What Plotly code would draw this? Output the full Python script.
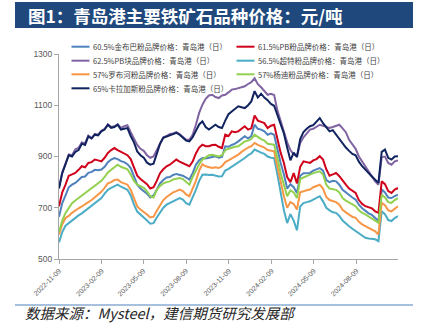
import pandas as pd
import plotly.graph_objects as go

# Weekly observation dates (Qingdao port, daily quotes sampled weekly)
dates = pd.date_range("2022-11-09", periods=105, freq="7D")

names = [
    "60.5%金布巴粉品牌价格：青岛港（日）",
    "61.5%PB粉品牌价格：青岛港（日）",
    "62.5%PB块品牌价格：青岛港（日）",
    "56.5%超特粉品牌价格：青岛港（日）",
    "57%罗布河粉品牌价格：青岛港（日）",
    "57%杨迪粉品牌价格：青岛港（日）",
    "65%卡拉加斯粉品牌价格：青岛港（日）",
]
colors = ["#4F81BD", "#D0021B", "#8064A2", "#4BACC6", "#F79646", "#92D050", "#10235F"]

jimblebar = [665, 718, 748, 780, 790, 797, 808, 820, 822, 836, 840, 848, 846, 849, 860, 878, 888, 894, 890, 882,
             878, 870, 855, 820, 790, 775, 766, 755, 740, 748, 770, 795, 808, 818, 820, 828, 832, 829, 825, 818,
             810, 835, 868, 885, 894, 892, 895, 898, 901, 895, 898, 940, 938, 945, 950, 959, 968, 979, 970, 980,
             1024, 1008, 1005, 998, 985, 990, 985, 925, 875, 830, 775, 792, 780, 758, 825, 835, 836, 836, 845, 850,
             855, 845, 808, 800, 805, 803, 790, 770, 760, 748, 740, 732, 712, 698, 686, 678, 672, 661, 648, 771,
             760, 740, 738, 745, 751]
pb_fines = [706, 760, 790, 825, 830, 836, 848, 862, 858, 875, 878, 888, 885, 881, 895, 914, 925, 933, 925, 918,
            912, 905, 890, 860, 825, 812, 803, 792, 775, 780, 805, 835, 850, 862, 868, 880, 888, 880, 875, 868,
            862, 880, 912, 935, 946, 940, 940, 945, 946, 938, 933, 985, 980, 998, 995, 998, 1010, 1018, 1005, 1010,
            1060, 1040, 1035, 1030, 1011, 1020, 1024, 965, 915, 875, 820, 800, 835, 795, 860, 881, 878, 875, 885, 890,
            901, 888, 850, 825, 830, 836, 823, 805, 790, 775, 768, 758, 730, 715, 706, 702, 698, 686, 680, 803,
            792, 765, 758, 771, 777]
pb_lump = [780, 838, 872, 908, 905, 928, 933, 955, 952, 982, 972, 988, 985, 1000, 1008, 1025, 1015, 1018, 1026, 1012,
           1018, 1022, 995, 972, 945, 930, 922, 905, 895, 900, 925, 955, 975, 980, 988, 990, 995, 988, 975, 965,
           965, 985, 1024, 1070, 1102, 1125, 1138, 1141, 1132, 1128, 1138, 1141, 1150, 1161, 1163, 1167, 1170, 1174, 1183, 1190,
           1205, 1182, 1170, 1155, 1141, 1145, 1140, 1080, 1035, 990, 955, 925, 908, 901, 953, 975, 992, 1005, 1008, 1015,
           1024, 1020, 1015, 1011, 1015, 1020, 1024, 1010, 995, 965, 945, 930, 900, 880, 860, 840, 820, 803, 790, 898,
           900, 875, 868, 881, 885]
super_special = [565, 605, 630, 640, 652, 662, 670, 678, 688, 698, 705, 715, 728, 738, 755, 770, 778, 785, 790, 782,
                 775, 770, 748, 712, 685, 672, 662, 650, 638, 640, 662, 682, 700, 712, 719, 725, 730, 738, 732, 718,
                 712, 740, 770, 805, 829, 830, 828, 829, 825, 822, 823, 845, 852, 860, 868, 875, 885, 894, 905, 912,
                 927, 920, 915, 910, 900, 895, 894, 830, 760, 690, 640, 675, 650, 612, 705, 718, 722, 725, 732, 738,
                 745, 725, 700, 690, 682, 680, 668, 650, 638, 628, 618, 609, 598, 590, 583, 580, 578, 577, 570, 686,
                 675, 652, 648, 660, 667]
robe_river = [595, 635, 660, 668, 680, 690, 698, 705, 712, 722, 730, 740, 752, 762, 778, 795, 800, 808, 810, 800,
              795, 790, 770, 735, 705, 693, 685, 674, 662, 665, 688, 710, 730, 742, 751, 760, 765, 771, 765, 752,
              745, 775, 805, 845, 870, 862, 858, 855, 858, 855, 862, 878, 885, 892, 900, 907, 918, 927, 935, 940,
              953, 945, 940, 935, 925, 922, 920, 860, 800, 745, 700, 722, 715, 693, 760, 765, 768, 771, 780, 785,
              790, 775, 742, 730, 725, 722, 712, 692, 682, 672, 665, 661, 645, 635, 628, 620, 615, 608, 596, 719,
              710, 690, 686, 698, 706]
yandi = [605, 650, 680, 700, 718, 728, 738, 748, 755, 768, 775, 788, 798, 805, 820, 838, 848, 858, 868, 860,
         855, 850, 830, 805, 790, 784, 778, 764, 745, 740, 770, 785, 795, 800, 803, 810, 812, 816, 812, 800,
         790, 820, 845, 870, 888, 898, 905, 907, 902, 900, 905, 925, 930, 935, 938, 940, 950, 959, 962, 968,
         985, 975, 968, 962, 950, 948, 946, 895, 835, 790, 745, 768, 760, 738, 812, 818, 822, 829, 835, 838,
         842, 830, 790, 775, 771, 770, 760, 738, 728, 720, 712, 706, 690, 680, 674, 665, 658, 648, 641, 751,
         740, 722, 719, 730, 738]
carajas = [775, 835, 870, 905, 900, 918, 925, 950, 945, 978, 970, 985, 982, 998, 1005, 1024, 1012, 1015, 1024, 1005,
           1008, 1011, 980, 955, 920, 905, 895, 876, 868, 872, 910, 950, 973, 978, 985, 988, 992, 985, 973, 962,
           959, 975, 1000, 1025, 1037, 1015, 1005, 1015, 1024, 1015, 1011, 1040, 1065, 1076, 1085, 1096, 1092, 1089, 1100, 1115,
           1155, 1130, 1145, 1130, 1120, 1105, 1098, 1060, 1025, 990, 935, 885, 915, 898, 968, 995, 1008, 1018, 1022, 1035,
           1050, 1030, 1015, 998, 1003, 985, 968, 950, 935, 922, 910, 905, 880, 862, 850, 835, 822, 810, 797, 918,
           927, 895, 888, 900, 901]

series = [jimblebar, pb_fines, pb_lump, super_special, robe_river, yandi, carajas]

y_ticks = [500, 700, 900, 1100, 1300]
x_ticks = ["2022-11-09", "2023-02-09", "2023-05-09", "2023-08-09", "2023-11-09",
           "2024-02-09", "2024-05-09", "2024-08-09"]

title_text = "图1：青岛港主要铁矿石品种价格：元/吨"
source_text = "数据来源：Mysteel，建信期货研究发展部"

W, H = 426, 324
ML, MR, MT, MB = 59, 28, 54, 65
PW, PH = W - ML - MR, H - MT - MB


def px(x):
    return (x - ML) / PW


def py(y):
    return (H - MB - y) / PH


fig = go.Figure()
for name, vals, col in zip(names, series, colors):
    fig.add_trace(go.Scatter(x=dates, y=vals, name=name, mode="lines",
                             line=dict(color=col, width=2)))

shapes = [
    # title band
    dict(type="rect", xref="paper", yref="paper", x0=px(15), x1=px(413), y0=py(28), y1=py(2),
         fillcolor="#1F497D", line=dict(width=0), layer="below"),
    # footer rule
    dict(type="line", xref="paper", yref="paper", x0=px(15), x1=px(413), y0=py(305), y1=py(305),
         line=dict(color="#4F81BD", width=1)),
]
annotations = [
    dict(text=title_text, xref="paper", yref="paper", x=px(26), y=py(15.5), xanchor="left", yanchor="middle",
         showarrow=False, font=dict(family="Noto Sans CJK SC", size=17.5, color="white", weight="bold")),
    dict(text="<i>" + source_text + " </i>", xref="paper", yref="paper", x=px(24), y=py(323.5),
         xanchor="left", yanchor="bottom", showarrow=False, borderpad=0,
         font=dict(family="Noto Sans CJK SC", size=14.5, color="#262626")),
]

# two-column legend drawn above the traces
rows_y = [46.7, 60.7, 74.3, 88.3]
cols_x = [(71.5, 89.5, 90.5), (236.5, 254.5, 255.5)]
for k, (name, col) in enumerate(zip(names, colors)):
    r, c = divmod(k, 2)
    x0, x1, xt = cols_x[c]
    yy = rows_y[r]
    shapes.append(dict(type="line", xref="paper", yref="paper", x0=px(x0), x1=px(x1), y0=py(yy), y1=py(yy),
                       line=dict(color=col, width=2)))
    annotations.append(dict(text=name, xref="paper", yref="paper", x=px(xt), y=py(yy), xanchor="left",
                            yanchor="middle", showarrow=False,
                            font=dict(family="Noto Sans CJK SC", size=7.5, color="#404040")))

fig.update_layout(
    width=W, height=H,
    margin=dict(l=ML, r=MR, t=MT, b=MB),
    paper_bgcolor="white", plot_bgcolor="white",
    showlegend=False,
    shapes=shapes, annotations=annotations,
    font=dict(family="Liberation Sans", color="#595959"),
)
fig.update_xaxes(
    type="date", range=[dates[0], dates[-1]],
    tickvals=x_ticks, ticktext=x_ticks, tickangle=-45,
    tickfont=dict(size=7, color="#595959"),
    showgrid=False, zeroline=False,
    showline=True, linecolor="#A6A6A6", linewidth=1,
    ticks="outside", ticklen=4, tickcolor="#A6A6A6",
)
fig.update_yaxes(
    range=[500, 1300], tickvals=y_ticks,
    tickfont=dict(size=8.5, color="#595959"),
    showgrid=False, zeroline=False,
    showline=True, linecolor="#A6A6A6", linewidth=1,
    ticks="outside", ticklen=4, tickcolor="#A6A6A6",
)

fig.write_html("out.html")
